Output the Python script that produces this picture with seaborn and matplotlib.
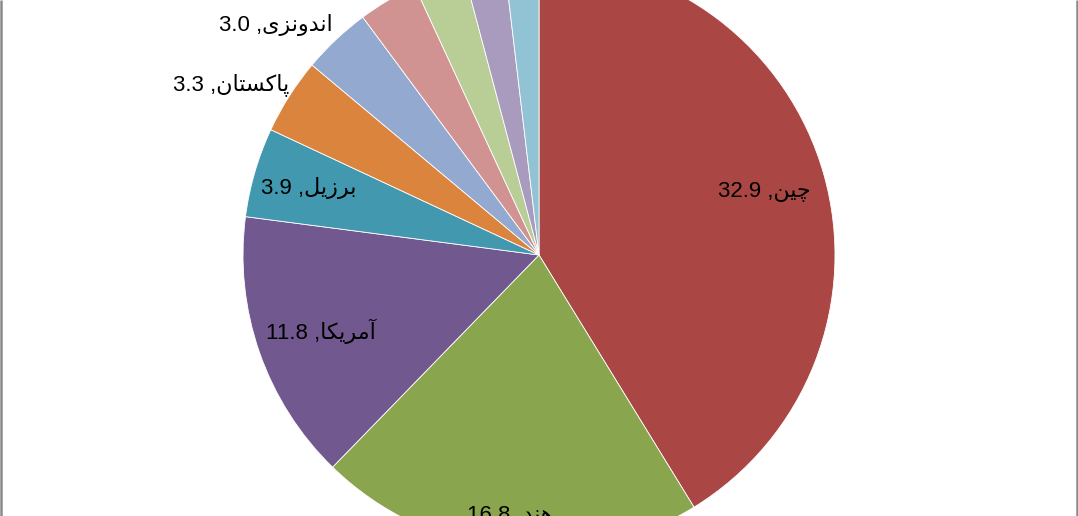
import matplotlib
matplotlib.use("Agg")
import matplotlib.pyplot as plt
import seaborn as sns
import numpy as np

# ---- data ----
countries = ["چین", "هند", "آمریکا", "برزیل", "پاکستان", "اندونزی", "", "", "", ""]
values = [32.9, 16.8, 11.8, 3.9, 3.3, 3.0, 2.6, 2.2, 1.8, 1.5]

# ---- style ----
colors = ["#AA4643", "#89A54E", "#71588F", "#4198AF", "#DB843D",
          "#93A9CF", "#D19392", "#B9CD96", "#A99BBD", "#92C3D4"]
label_radius = [0.79, 0.885, 0.78, 0.81, 1.19, 1.18, 0, 0, 0, 0]
label_shift = [0, 0, 0, 0, 3.5, 5.5, 0, 0, 0, 0]

# minimal Arabic-script shaping (presentation forms, visual order)
FORMS = {
    'آ': ('\uFE81', '\uFE82', None, None),
    'ا': ('\uFE8D', '\uFE8E', None, None),
    'ب': ('\uFE8F', '\uFE90', '\uFE91', '\uFE92'),
    'ت': ('\uFE95', '\uFE96', '\uFE97', '\uFE98'),
    'د': ('\uFEA9', '\uFEAA', None, None),
    'ر': ('\uFEAD', '\uFEAE', None, None),
    'ز': ('\uFEAF', '\uFEB0', None, None),
    'س': ('\uFEB1', '\uFEB2', '\uFEB3', '\uFEB4'),
    'ل': ('\uFEDD', '\uFEDE', '\uFEDF', '\uFEE0'),
    'م': ('\uFEE1', '\uFEE2', '\uFEE3', '\uFEE4'),
    'ن': ('\uFEE5', '\uFEE6', '\uFEE7', '\uFEE8'),
    'ه': ('\uFEE9', '\uFEEA', '\uFEEB', '\uFEEC'),
    'و': ('\uFEED', '\uFEEE', None, None),
    'پ': ('\uFB56', '\uFB57', '\uFB58', '\uFB59'),
    'چ': ('\uFB7A', '\uFB7B', '\uFB7C', '\uFB7D'),
    'ک': ('\uFB8E', '\uFB8F', '\uFB90', '\uFB91'),
    'ی': ('\uFBFC', '\uFBFD', '\uFBFE', '\uFBFF'),
}


def dual(ch):
    return ch in FORMS and FORMS[ch][2] is not None


def shape(word):
    out = []
    n = len(word)
    for i, ch in enumerate(word):
        if ch not in FORMS:
            out.append(ch)
            continue
        jp = i > 0 and dual(word[i - 1])
        jn = i < n - 1 and dual(ch) and word[i + 1] in FORMS
        iso, fin, ini, med = FORMS[ch]
        if jp and jn:
            out.append(med)
        elif jp:
            out.append(fin)
        elif jn:
            out.append(ini)
        else:
            out.append(iso)
    return "".join(reversed(out))


sns.set_theme(style="white")
plt.rcParams['font.family'] = ['Liberation Sans', 'DejaVu Sans']

W, H = 1078, 516
fig = plt.figure(figsize=(W / 100, H / 100), dpi=100)
ax = fig.add_axes([0, 0, 1, 1])

cx, cy, R = 539, 261, 296
wedges, _ = ax.pie(values, colors=colors, startangle=90, counterclock=False,
                   radius=R, center=(cx, cy), frame=True,
                   wedgeprops=dict(edgecolor='white', linewidth=0.6))
ax.set_xlim(0, W)
ax.set_ylim(0, H)
ax.set_aspect('equal')
ax.axis('off')

for w, name, v, rf, sh in zip(wedges, countries, values, label_radius, label_shift):
    if not name:
        continue
    th = np.deg2rad((w.theta1 + w.theta2) / 2 + sh)
    x = cx + rf * R * np.cos(th)
    y = cy + rf * R * np.sin(th)
    txt = f"{v:.1f} ," + shape(name)
    ax.text(x, y, txt, ha='center', va='center', fontsize=16, color='black',
            family=['Liberation Sans', 'DejaVu Sans'])

# side borders
ax.plot([1, 1], [0, H], color='#8a8a8a', lw=1.8, solid_capstyle='butt')
ax.plot([W - 1, W - 1], [0, H], color='#8a8a8a', lw=1.8, solid_capstyle='butt')

fig.savefig("out.png", dpi=100)
